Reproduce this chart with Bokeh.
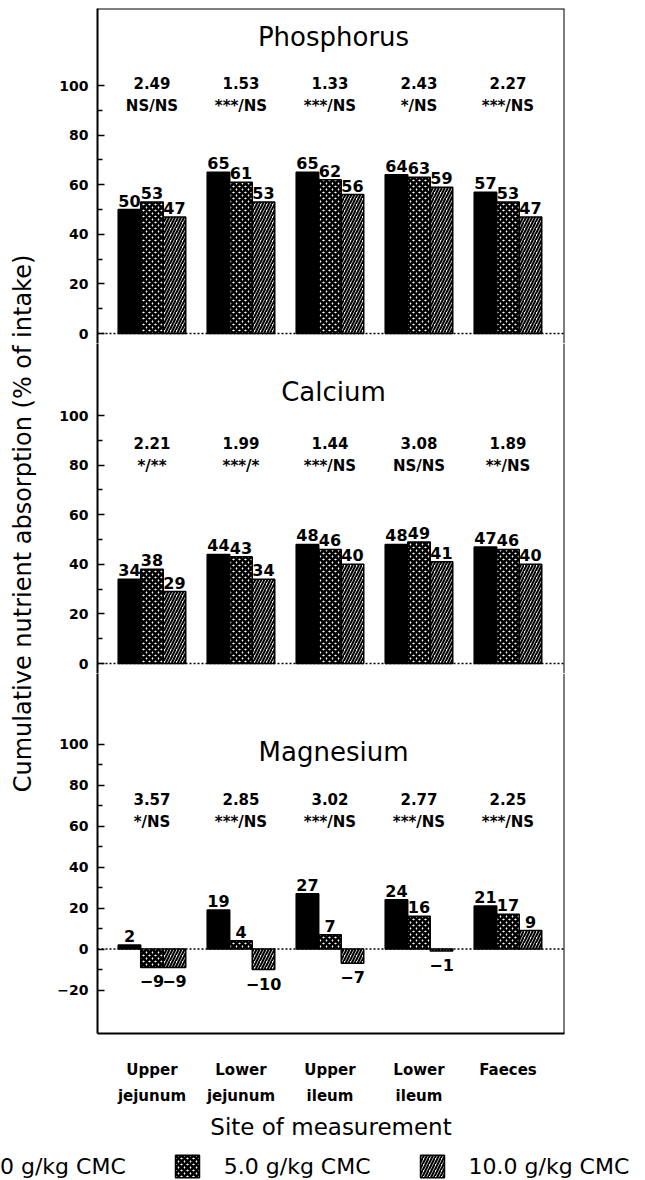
import math
from bokeh.plotting import figure
from bokeh.layouts import column, row
from bokeh.models import (ColumnDataSource, Range1d, FixedTicker, Span, Label,
                          Legend, LegendItem, CDSView, BooleanFilter)
from bokeh.transform import dodge
from bokeh.core.properties import value
from bokeh.embed import file_html
from bokeh.resources import INLINE

# ---------------- data ----------------
sites = ["Upper\njejunum", "Lower\njejunum", "Upper\nileum", "Lower\nileum", "Faeces"]
doses = ["0 g/kg CMC", "5.0 g/kg CMC", "10.0 g/kg CMC"]

phos_0 = [50, 65, 65, 64, 57]
phos_5 = [53, 61, 62, 63, 53]
phos_10 = [47, 53, 56, 59, 47]
phos_f = ["2.49", "1.53", "1.33", "2.43", "2.27"]
phos_sig = ["NS/NS", "***/NS", "***/NS", "*/NS", "***/NS"]

calc_0 = [34, 44, 48, 48, 47]
calc_5 = [38, 43, 46, 49, 46]
calc_10 = [29, 34, 40, 41, 40]
calc_f = ["2.21", "1.99", "1.44", "3.08", "1.89"]
calc_sig = ["*/**", "***/*", "***/NS", "NS/NS", "**/NS"]

magn_0 = [2, 19, 27, 24, 21]
magn_5 = [-9, 4, 7, 16, 17]
magn_10 = [-9, -10, -7, -1, 9]
magn_f = ["3.57", "2.85", "3.02", "2.77", "2.25"]
magn_sig = ["*/NS", "***/NS", "***/NS", "***/NS", "***/NS"]

# ---------------- styles ----------------
FONT = "DejaVu Sans"
X_LO, X_HI = -0.612, 4.635
OFFSETS = [-0.253, 0.0, 0.253]
BAR_W = 0.253
BAR_STYLES = [
    dict(fill_color="black"),
    dict(fill_color="white", hatch_pattern="diagonal_cross", hatch_color="black",
         hatch_scale=6, hatch_weight=2.7),
    dict(fill_color="white", hatch_pattern="right_diagonal_line", hatch_color="black",
         hatch_scale=6, hatch_weight=2.1),
]
FRAME_W = 467
TITLE_W = 44
LEFT_B, RIGHT_B = 53, 81


def fmt(v):
    return str(v).replace("-", "\u2212")


def panel(name, series, fvals, sigs, y_lo, y_hi, frame_h, title_y, f_y,
          ticks, minor, top_b=0, bottom_b=0, show_x=False):
    p = figure(frame_width=FRAME_W, frame_height=frame_h,
               x_range=Range1d(X_LO, X_HI), y_range=Range1d(y_lo, y_hi),
               output_backend="svg", toolbar_location=None,
               x_axis_location="below" if show_x else None,
               min_border_left=LEFT_B, min_border_right=RIGHT_B,
               min_border_top=top_b, min_border_bottom=bottom_b)
    p.outline_line_color = None
    p.grid.visible = False
    p.background_fill_color = "white"
    p.border_fill_color = "white"

    data = dict(x=list(range(len(sites))))
    for k, vals in enumerate(series):
        data[f"v{k}"] = vals
        data[f"t{k}"] = [fmt(v) for v in vals]
    data["f"] = fvals
    data["s"] = sigs
    src = ColumnDataSource(data)

    # zero line
    p.add_layout(Span(location=0, dimension="width", line_color="black",
                      line_width=1.5, line_dash="2 2", level="underlay"))

    for k, vals in enumerate(series):
        xk = dodge("x", OFFSETS[k], range=p.x_range)
        p.vbar(x=xk, top=f"v{k}", bottom=0, width=BAR_W, source=src,
               line_color="black", line_width=1.5, **BAR_STYLES[k])
        pos = CDSView(filter=BooleanFilter([v >= 0 for v in vals]))
        neg = CDSView(filter=BooleanFilter([v < 0 for v in vals]))
        common = dict(x=xk, y=f"v{k}", text=f"t{k}", source=src,
                      text_font=value(FONT), text_font_size="16px",
                      text_font_style="bold", text_align="center",
                      text_color="black")
        p.text(view=pos, text_baseline="bottom", y_offset=-3, **common)
        p.text(view=neg, text_baseline="top", y_offset=8, **common)

    p.text(x="x", y=f_y, text="f", source=src, text_font=value(FONT),
           text_font_size="15px", text_font_style="bold", text_align="center",
           text_baseline="middle")
    p.text(x="x", y=f_y, text="s", source=src, text_font=value(FONT),
           text_font_size="15px", text_font_style="bold", text_align="center",
           text_baseline="middle", y_offset=23)

    p.add_layout(Label(x=2.04, y=title_y, text=name, text_font=FONT,
                       text_font_size="26px", text_align="center",
                       text_baseline="middle", text_color="black"))

    # right side of the box
    p.add_layout(Span(location=X_HI, dimension="height", line_color="black",
                      line_width=2))

    ax = p.yaxis[0]
    ax.ticker = FixedTicker(ticks=ticks, minor_ticks=minor)
    ax.axis_line_width = 2
    ax.axis_line_color = "black"
    ax.major_tick_in = 7
    ax.major_tick_out = 0
    ax.minor_tick_in = 5
    ax.minor_tick_out = 0
    ax.major_tick_line_width = 1.5
    ax.minor_tick_line_width = 1.5
    ax.major_tick_line_color = "black"
    ax.minor_tick_line_color = "black"
    ax.major_label_standoff = 9
    ax.major_label_text_font = FONT
    ax.major_label_text_font_size = "14px"
    ax.major_label_text_font_style = "bold"
    ax.major_label_text_color = "black"

    if show_x:
        xa = p.xaxis[0]
        xa.ticker = FixedTicker(ticks=list(range(len(sites))))
        xa.major_label_overrides = {i: s for i, s in enumerate(sites)}
        xa.major_tick_in = 0
        xa.major_tick_out = 0
        xa.minor_tick_in = 0
        xa.minor_tick_out = 0
        xa.major_tick_line_color = None
        xa.minor_tick_line_color = None
        xa.axis_line_width = 2
        xa.axis_line_color = "black"
        xa.major_label_standoff = 27
        xa.major_label_text_font = FONT
        xa.major_label_text_font_size = "15px"
        xa.major_label_text_font_style = "bold"
        xa.major_label_text_line_height = 1.45
        xa.major_label_text_color = "black"
        xa.axis_label = "Site of measurement"
        xa.axis_label_standoff = 6
        xa.axis_label_text_font = FONT
        xa.axis_label_text_font_size = "23px"
        xa.axis_label_text_font_style = "normal"
        xa.axis_label_text_color = "black"
    return p


PX_PM = 2.48      # pixels per unit, phosphorus & calcium panels
PX_MG = 2.05      # pixels per unit, magnesium panel
TOP_B = 8
P_H, CA_H, MG_H = 335, 330, 360
BELOW = 10        # pixels under the zero line in the P and Ca panels
MG_BOTTOM = 104
MG_NEG = 84.5     # pixels under the zero line in the Mg panel

p_fig = panel("Phosphorus", [phos_0, phos_5, phos_10], phos_f, phos_sig,
              -BELOW / PX_PM, (P_H - BELOW) / PX_PM, P_H, 119.4, 101.2,
              [0, 20, 40, 60, 80, 100], [10, 30, 50, 70, 90], top_b=TOP_B)
p_fig.add_layout(Span(location=p_fig.y_range.end, dimension="width",
                      line_color="black", line_width=2))

ca_fig = panel("Calcium", [calc_0, calc_5, calc_10], calc_f, calc_sig,
               -BELOW / PX_PM, (CA_H - BELOW) / PX_PM, CA_H, 109.3, 89.1,
               [0, 20, 40, 60, 80, 100], [10, 30, 50, 70, 90])

mg_fig = panel("Magnesium", [magn_0, magn_5, magn_10], magn_f, magn_sig,
               -MG_NEG / PX_MG, (MG_H - MG_NEG) / PX_MG, MG_H, 95.9, 73.4,
               [-20, 0, 20, 40, 60, 80, 100], [-10, 10, 30, 50, 70, 90],
               bottom_b=MG_BOTTOM, show_x=True)

TOTAL_H = TOP_B + P_H + CA_H + MG_H + MG_BOTTOM

# y-axis title strip
t_fig = figure(width=TITLE_W, height=TOTAL_H, x_range=Range1d(0, 1), y_range=Range1d(0, 1),
               x_axis_location=None, y_axis_location=None, toolbar_location=None,
               output_backend="svg", min_border=0)
t_fig.outline_line_color = None
t_fig.grid.visible = False
t_fig.add_layout(Label(x=0.5, y=1 - 523 / TOTAL_H,
                       text="Cumulative nutrient absorption (% of intake)",
                       angle=math.pi / 2, text_align="center", text_baseline="middle",
                       text_font=FONT, text_font_size="24px", text_color="black"))

# legend strip
LEG_H = 1180 - TOTAL_H
lg_fig = figure(width=645, height=LEG_H, x_range=Range1d(0, 1), y_range=Range1d(0, 1),
                x_axis_location=None, y_axis_location=None, toolbar_location=None,
                output_backend="svg", min_border=0)
lg_fig.outline_line_color = None
lg_fig.grid.visible = False
nan = float("nan")
dummy = [lg_fig.vbar(x=[nan], top=[nan], width=0.1, line_color="black", line_width=1.5,
                     **BAR_STYLES[k]) for k in range(3)]
legend = Legend(items=[LegendItem(label=doses[k], renderers=[dummy[k]]) for k in range(3)],
                location=(-52, 5), orientation="horizontal", glyph_width=30,
                glyph_height=28, label_standoff=22, spacing=46, padding=0, margin=0,
                border_line_color=None, background_fill_alpha=0,
                label_text_font=FONT, label_text_font_size="22px",
                label_text_color="black")
lg_fig.add_layout(legend)

layout = column(row(t_fig, column(p_fig, ca_fig, mg_fig)), lg_fig)

open("out.html", "w").write(file_html(layout, INLINE))
